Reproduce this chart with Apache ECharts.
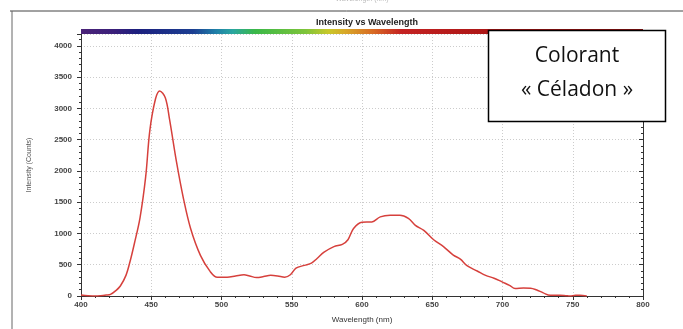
<!DOCTYPE html>
<html>
<head>
<meta charset="utf-8">
<script src="https://cdn.jsdelivr.net/npm/echarts@6/dist/echarts.min.js"></script>
<style>
  html, body { margin: 0; padding: 0; background: #fff; }
  #main { width: 683px; height: 329px; }
</style>
</head>
<body>
<div id="main"></div>
<script>
// spectrum: [wavelength nm, intensity counts]
const spectrum = [
  [400, 15], [405, 5], [410, 0], [414, 5], [418, 15], [421, 25], [425, 90], [428, 160],
  [432, 330], [435, 560], [438, 840], [442, 1250], [446, 1900], [449, 2650], [453, 3150],
  [456, 3280], [460, 3170], [463, 2830], [468, 2140], [473, 1550], [478, 1080], [485, 650],
  [492, 390], [497, 300], [504, 300], [510, 320], [516, 340], [520, 320], [525, 295],
  [530, 310], [535, 330], [540, 320], [545, 300], [549, 340], [553, 445], [559, 490],
  [564, 525], [568, 600], [573, 700], [580, 790], [586, 825], [590, 900], [594, 1080],
  [600, 1180], [607, 1185], [613, 1265], [620, 1290], [627, 1290], [633, 1240], [638, 1130],
  [644, 1050], [651, 900], [658, 790], [665, 655], [670, 590], [675, 480], [682, 400],
  [688, 330], [694, 285], [700, 222], [705, 170], [709, 120], [715, 127], [720, 125],
  [724, 100], [729, 50], [734, 10], [741, 10], [745, 5], [748, 0], [752, 10], [755, 10], [760, 0]
];

// colours of the spectrum strip, position 0 = 400 nm, 1 = 800 nm
const rainbow = [
  [0, '#4b2378'], [0.06, '#3a1f7a'], [0.1, '#1c1f7e'], [0.2, '#1c3f92'], [0.24, '#1f7fa8'],
  [0.27, '#2aa6a0'], [0.31, '#3ab848'], [0.4, '#7ec43a'], [0.44, '#c8c82a'], [0.47, '#d8a828'],
  [0.52, '#d86a24'], [0.57, '#c42222'], [0.75, '#a81414'], [1, '#8a1010']
];

const chart = echarts.init(document.getElementById('main'));

const tickStyle = { color: '#333', width: 1 };
const labelStyle = { fontFamily: 'Liberation Sans', fontSize: 8, fontWeight: 'bold', color: '#444' };
const option = {
  animation: false,
  title: {
    text: 'Intensity vs Wavelength',
    left: 362, top: 13, textAlign: 'center',
    textStyle: { fontFamily: 'Liberation Sans', fontSize: 9, fontWeight: 'bold', color: '#222' }
  },
  grid: { left: 81, right: 40, top: 34, bottom: 31 },
  xAxis: [
    {
      type: 'value', min: 400, max: 800, interval: 50,
      name: 'Wavelength (nm)', nameLocation: 'middle', nameGap: 20,
      nameTextStyle: { fontFamily: 'Liberation Sans', fontSize: 8, color: '#333' },
      axisLine: { lineStyle: tickStyle },
      axisTick: { length: 4, lineStyle: tickStyle },
      minorTick: { show: true, splitNumber: 5, length: 2, lineStyle: tickStyle },
      axisLabel: Object.assign({ margin: 5, formatter: v => String(v) }, labelStyle),
      splitLine: { show: true, lineStyle: { color: '#ccc', type: [1, 2] } }
    },
    {
      type: 'value', min: 400, max: 800, interval: 50, position: 'top',
      axisLine: { show: true, lineStyle: tickStyle },
      axisTick: { inside: true, length: 4, lineStyle: tickStyle },
      minorTick: { show: true, splitNumber: 5, length: 2, lineStyle: tickStyle },
      axisLabel: { show: false }, splitLine: { show: false }
    }
  ],
  yAxis: [
    {
      type: 'value', min: 0, max: 4190, interval: 500,
      name: 'Intensity (Counts)', nameLocation: 'middle', nameGap: 48, nameRotate: 90,
      nameTextStyle: { fontFamily: 'Liberation Sans', fontSize: 7, color: '#555' },
      axisLine: { show: true, lineStyle: tickStyle },
      axisTick: { show: true, length: 4, lineStyle: tickStyle },
      minorTick: { show: true, splitNumber: 5, length: 2, lineStyle: tickStyle },
      axisLabel: Object.assign({ margin: 9, showMaxLabel: false, formatter: v => String(v) }, labelStyle),
      splitLine: { show: true, lineStyle: { color: '#ccc', type: [1, 2] } }
    },
    {
      type: 'value', min: 0, max: 4190, interval: 500, position: 'right',
      axisLine: { show: true, lineStyle: tickStyle },
      axisTick: { show: true, inside: true, length: 4, lineStyle: tickStyle },
      minorTick: { show: true, splitNumber: 5, length: 2, lineStyle: tickStyle },
      axisLabel: { show: false }, splitLine: { show: false }
    }
  ],
  series: [
    {
      type: 'line',
      data: spectrum,
      smooth: 0.35,
      showSymbol: false,
      lineStyle: { color: '#d6403c', width: 1.5 }
    }
  ]
};
chart.setOption(option);

// spectrum strip along the top of the plot, frame lines and the label box
const x0 = chart.convertToPixel({ xAxisIndex: 0 }, 400);
const x1 = chart.convertToPixel({ xAxisIndex: 0 }, 800);
const yTop = chart.convertToPixel({ yAxisIndex: 0 }, 4190);
chart.setOption({
  graphic: [
    {
      type: 'rect', z: 100,
      shape: { x: x0, y: yTop - 5, width: x1 - x0, height: 5 },
      style: {
        fill: new echarts.graphic.LinearGradient(0, 0, 1, 0,
          rainbow.map(s => ({ offset: s[0], color: s[1] })))
      }
    },
    { type: 'line', shape: { x1: 10, y1: 11, x2: 683, y2: 11 }, style: { stroke: '#444', lineWidth: 1 } },
    { type: 'line', shape: { x1: 12, y1: 11, x2: 12, y2: 329 }, style: { stroke: '#666', lineWidth: 1 } },
    {
      type: 'text', x: 362, y: -4,
      style: { text: 'Wavelength (nm)', font: '7px Liberation Sans', fill: '#bbb', textAlign: 'center' }
    },
    {
      type: 'rect', z: 200,
      shape: { x: 488.5, y: 30.5, width: 177, height: 91 },
      style: { fill: '#fff', stroke: '#000', lineWidth: 1.5 }
    },
    {
      type: 'text', z: 201, x: 577, y: 46,
      style: { text: 'Colorant', font: '21px "Open Sans"', fill: '#111', textAlign: 'center' }
    },
    {
      type: 'text', z: 201, x: 577, y: 80,
      style: { text: '« Céladon »', font: '21px "Open Sans"', fill: '#111', textAlign: 'center' }
    }
  ]
});
</script>
</body>
</html>
